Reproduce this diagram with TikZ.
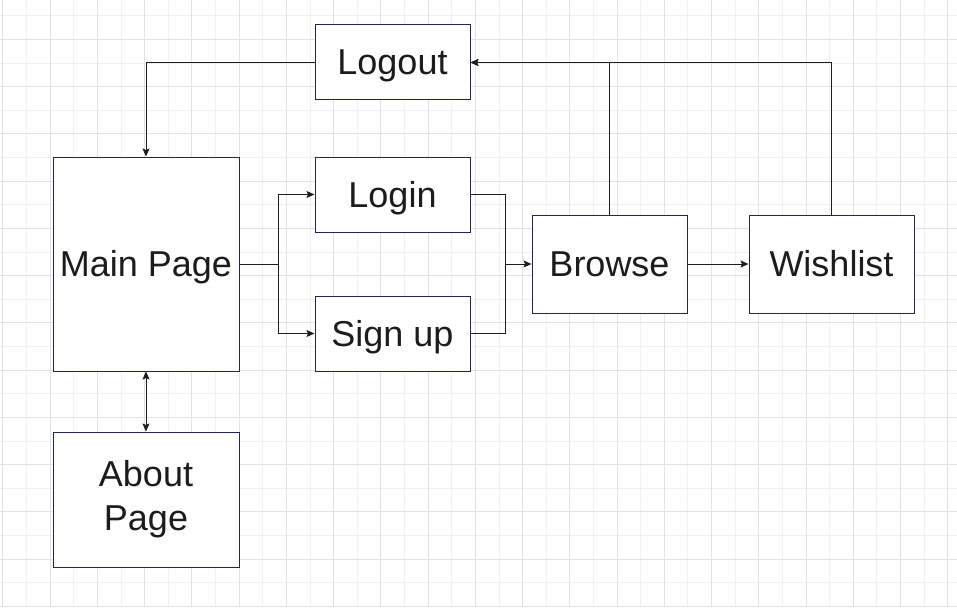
\documentclass[tikz,border=0pt]{standalone}
\usepackage{fontspec}
\setmainfont{Liberation Sans}
\usetikzlibrary{arrows.meta}
\definecolor{boxline}{RGB}{34,38,84}
\definecolor{conn}{RGB}{30,30,30}
\definecolor{txt}{RGB}{28,28,28}
\definecolor{gridlight}{RGB}{241,241,241}
\definecolor{griddark}{RGB}{226,226,226}
\tikzset{
  box/.style={draw=boxline, line width=1pt, fill=white, inner sep=0pt, text=txt,
    font=\fontsize{36}{44}\selectfont, align=center},
  oneline/.style={text height=32.6pt, text depth=7.6pt},
  arr/.style={draw=conn, line width=1pt, -{Stealth[length=8pt,width=7pt,inset=1.5pt]}},
  plain/.style={draw=conn, line width=1pt},
  arrboth/.style={draw=conn, line width=1pt, {Stealth[length=8pt,width=7pt,inset=1.5pt]}-{Stealth[length=8pt,width=7pt,inset=1.5pt]}},
}
\begin{document}
\begin{tikzpicture}[x=1pt,y=-1pt]
\useasboundingbox[fill=white] (0,0) rectangle (957,607);
% grid
\foreach \k in {0,...,20} {
  \draw[gridlight, line width=1pt] ({26.6+47.24*\k},0) -- ({26.6+47.24*\k},607);
  \draw[gridlight, line width=1pt] (0,{16+47.24*\k}) -- (957,{16+47.24*\k});
}
\foreach \k in {0,...,20} {
  \draw[griddark, line width=1pt] ({2.96+47.24*\k},0) -- ({2.96+47.24*\k},607);
  \draw[griddark, line width=1pt] (0,{39.4+47.24*\k}) -- (957,{39.4+47.24*\k});
}
% nodes
\node[box, oneline, minimum width=155pt, minimum height=75pt] (logout) at (392.5,62.5) {Logout};
\node[box, oneline, minimum width=186pt, minimum height=214pt] (main) at (146,264) {Main Page};
\node[box, oneline, minimum width=155pt, minimum height=75pt] (login) at (392.5,194.5) {Login};
\node[box, oneline, minimum width=155pt, minimum height=75pt] (signup) at (392.5,333.5) {Sign up};
\node[box, oneline, minimum width=155pt, minimum height=98pt] (browse) at (609.5,264) {Browse};
\node[box, oneline, minimum width=165pt, minimum height=98pt] (wishlist) at (831.5,264) {Wishlist};
\node[box, minimum width=186pt, minimum height=135pt] (about) at (146,499.5) {About\\Page};
% junctions
\coordinate (j1) at (278,264);
\coordinate (j2) at (505,264);
% connectors
\draw[arr] (logout.west) -| (main.north);
\draw[plain] (main.east) -- (j1);
\draw[arr] (j1) |- (login.west);
\draw[arr] (j1) |- (signup.west);
\draw[arr] (login.east) -| (j2) -- (browse.west);
\draw[plain] (signup.east) -| (j2);
\draw[arr] (browse.east) -- (wishlist.west);
\draw[arr] (browse.north) |- (logout.east);
\draw[arr] (wishlist.north) |- (logout.east);
\draw[arrboth] (main.south) -- (about.north);
\end{tikzpicture}
\end{document}
